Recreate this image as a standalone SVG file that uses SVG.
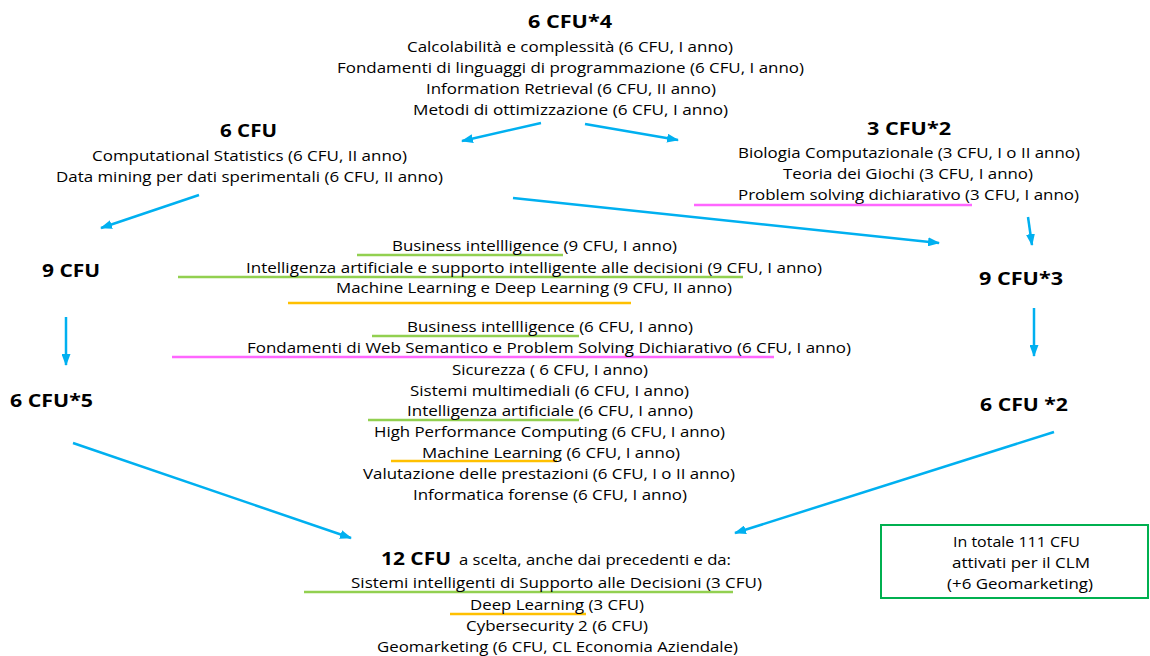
<svg xmlns="http://www.w3.org/2000/svg" width="1150" height="656" viewBox="0 0 1150 656">
<defs>
<style>
text{font-family:"Open Sans","Liberation Sans",sans-serif;fill:#000;}
.r{font-size:15px;}
.b{font-size:18px;font-weight:bold;}
.con{stroke:#00b0f0;stroke-width:2.5;fill:none;marker-end:url(#ah);}
.ug{stroke:#92d050;stroke-width:2.5;}
.up{stroke:#ff66ff;stroke-width:2.5;}
.uo{stroke:#ffc000;stroke-width:2.5;}
</style>
<marker id="ah" markerUnits="userSpaceOnUse" markerWidth="12" markerHeight="9" refX="11" refY="4.5" orient="auto">
<path d="M0,0 L12,4.5 L0,9 Z" fill="#00b0f0"/>
</marker>
</defs>
<rect width="1150" height="656" fill="#fff"/>

<g id="connectors">
<line class="con" x1="541" y1="123" x2="462" y2="141"/>
<line class="con" x1="585" y1="124" x2="678" y2="140"/>
<line class="con" x1="199" y1="195" x2="101" y2="228"/>
<line class="con" x1="513" y1="198" x2="939" y2="243"/>
<line class="con" x1="1028" y1="217" x2="1032" y2="245"/>
<line class="con" x1="66" y1="317" x2="66" y2="365"/>
<line class="con" x1="1034" y1="308" x2="1034" y2="356"/>
<line class="con" x1="73" y1="443" x2="351" y2="538"/>
<line class="con" x1="1054" y1="432" x2="735" y2="533"/>
</g>

<g id="n-6cfu4">
<text class="b" x="528" y="28" textLength="84" lengthAdjust="spacingAndGlyphs">6 CFU*4</text>
<text class="r" x="407" y="52" textLength="326" lengthAdjust="spacingAndGlyphs">Calcolabilità e complessità (6 CFU, I anno)</text>
<text class="r" x="337" y="73" textLength="467" lengthAdjust="spacingAndGlyphs">Fondamenti di linguaggi di programmazione (6 CFU, I anno)</text>
<text class="r" x="426" y="94" textLength="290" lengthAdjust="spacingAndGlyphs">Information Retrieval (6 CFU, II anno)</text>
<text class="r" x="413" y="115" textLength="315" lengthAdjust="spacingAndGlyphs">Metodi di ottimizzazione (6 CFU, I anno)</text>
</g>

<g id="n-6cfu">
<text class="b" x="220" y="137" textLength="57" lengthAdjust="spacingAndGlyphs">6 CFU</text>
<text class="r" x="92" y="161" textLength="315" lengthAdjust="spacingAndGlyphs">Computational Statistics (6 CFU, II anno)</text>
<text class="r" x="56" y="182" textLength="387" lengthAdjust="spacingAndGlyphs">Data mining per dati sperimentali (6 CFU, II anno)</text>
</g>

<g id="n-3cfu2">
<text class="b" x="867" y="135" textLength="84" lengthAdjust="spacingAndGlyphs">3 CFU*2</text>
<text class="r" x="738" y="158" textLength="342" lengthAdjust="spacingAndGlyphs">Biologia Computazionale (3 CFU, I o II anno)</text>
<text class="r" x="783" y="179" textLength="250" lengthAdjust="spacingAndGlyphs">Teoria dei Giochi (3 CFU, I anno)</text>
<text class="r" x="738" y="200" textLength="341" lengthAdjust="spacingAndGlyphs">Problem solving dichiarativo (3 CFU, I anno)</text>
<line class="up" x1="694" y1="205" x2="972" y2="205"/>
</g>

<g id="n-9cfu">
<text class="b" x="42" y="277" textLength="58" lengthAdjust="spacingAndGlyphs">9 CFU</text>
</g>
<g id="n-9cfu3">
<text class="b" x="979" y="285" textLength="84" lengthAdjust="spacingAndGlyphs">9 CFU*3</text>
</g>
<g id="n-6cfu5">
<text class="b" x="10" y="407" textLength="83" lengthAdjust="spacingAndGlyphs">6 CFU*5</text>
</g>
<g id="n-6cfu2">
<text class="b" x="980" y="411" textLength="88" lengthAdjust="spacingAndGlyphs">6 CFU *2</text>
</g>

<g id="list-9cfu">
<line class="ug" x1="357" y1="255" x2="563" y2="255"/>
<line class="ug" x1="178" y1="277" x2="743" y2="277"/>
<line class="uo" x1="288" y1="303" x2="631" y2="303"/>
<text class="r" x="392" y="251" textLength="285" lengthAdjust="spacingAndGlyphs">Business intellligence (9 CFU, I anno)</text>
<text class="r" x="246" y="273" textLength="576" lengthAdjust="spacingAndGlyphs">Intelligenza artificiale e supporto intelligente alle decisioni (9 CFU, I anno)</text>
<text class="r" x="336" y="293" textLength="396" lengthAdjust="spacingAndGlyphs">Machine Learning e Deep Learning (9 CFU, II anno)</text>
</g>

<g id="list-6cfu">
<line class="ug" x1="372" y1="336" x2="579" y2="336"/>
<line class="up" x1="172" y1="357" x2="774" y2="357"/>
<line class="ug" x1="368" y1="420" x2="579" y2="420"/>
<line class="uo" x1="391" y1="461" x2="557" y2="461"/>
<text class="r" x="407" y="332" textLength="286" lengthAdjust="spacingAndGlyphs">Business intellligence (6 CFU, I anno)</text>
<text class="r" x="247" y="353" textLength="604" lengthAdjust="spacingAndGlyphs">Fondamenti di Web Semantico e Problem Solving Dichiarativo (6 CFU, I anno)</text>
<text class="r" x="452" y="375" textLength="196" lengthAdjust="spacingAndGlyphs">Sicurezza ( 6 CFU, I anno)</text>
<text class="r" x="410" y="396" textLength="279" lengthAdjust="spacingAndGlyphs">Sistemi multimediali (6 CFU, I anno)</text>
<text class="r" x="407" y="416" textLength="286" lengthAdjust="spacingAndGlyphs">Intelligenza artificiale (6 CFU, I anno)</text>
<text class="r" x="374" y="437" textLength="351" lengthAdjust="spacingAndGlyphs">High Performance Computing (6 CFU, I anno)</text>
<text class="r" x="422" y="458" textLength="258" lengthAdjust="spacingAndGlyphs">Machine Learning (6 CFU, I anno)</text>
<text class="r" x="363" y="479" textLength="372" lengthAdjust="spacingAndGlyphs">Valutazione delle prestazioni (6 CFU, I o II anno)</text>
<text class="r" x="413" y="500" textLength="274" lengthAdjust="spacingAndGlyphs">Informatica forense (6 CFU, I anno)</text>
</g>

<g id="n-12cfu">
<line class="ug" x1="304" y1="592" x2="733" y2="592"/>
<line class="uo" x1="450" y1="614" x2="586" y2="614"/>
<text class="b" x="381" y="565" textLength="70" lengthAdjust="spacingAndGlyphs">12 CFU</text>
<text class="r" x="459" y="565" textLength="272" lengthAdjust="spacingAndGlyphs">a scelta, anche dai precedenti e da:</text>
<text class="r" x="351" y="588" textLength="411" lengthAdjust="spacingAndGlyphs">Sistemi intelligenti di Supporto alle Decisioni (3 CFU)</text>
<text class="r" x="470" y="610" textLength="174" lengthAdjust="spacingAndGlyphs">Deep Learning (3 CFU)</text>
<text class="r" x="466" y="631" textLength="182" lengthAdjust="spacingAndGlyphs">Cybersecurity 2 (6 CFU)</text>
<text class="r" x="377" y="652" textLength="361" lengthAdjust="spacingAndGlyphs">Geomarketing (6 CFU, CL Economia Aziendale)</text>
</g>

<g id="n-totale">
<rect x="881" y="525" width="267" height="73" fill="none" stroke="#00b050" stroke-width="2"/>
<text class="r" x="953" y="547" textLength="127" lengthAdjust="spacingAndGlyphs">In totale 111 CFU</text>
<text class="r" x="952" y="568" textLength="138" lengthAdjust="spacingAndGlyphs">attivati per il CLM</text>
<text class="r" x="947" y="589" textLength="146" lengthAdjust="spacingAndGlyphs">(+6 Geomarketing)</text>
</g>
</svg>
